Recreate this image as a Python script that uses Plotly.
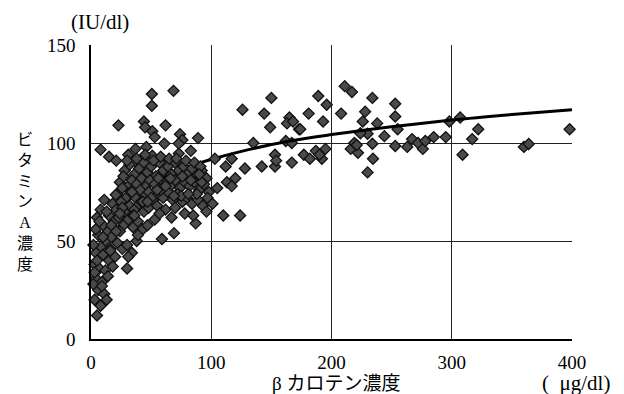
import plotly.graph_objects as go

# ---- data ----
# beta-carotene (x, ug/dl) and vitamin A (y, IU/dl), region x < 100
low_x = [50.6, 50.6, 68.6, 22.8, 44, 45, 62, 51, 53, 74, 76, 89, 8, 15, 21, 31, 37, 46, 61, 73, 73, 83, 43, 51, 59, 41, 103,
         28, 32, 36, 40, 44, 47, 50, 54, 57, 60, 64, 67, 70, 73, 77, 80, 84, 88, 92, 96,
         24, 27, 31, 34, 38, 42, 46, 49, 53, 56, 59, 63, 66, 70, 74, 78, 82, 86, 90, 94, 98,
         22, 26, 29, 33, 37, 41, 45, 48, 52, 56, 60, 64, 68, 72, 76, 80, 84, 89, 93, 97,
         18, 21, 25, 28, 32, 36, 40, 44, 48, 55, 62, 70, 78,
         15, 19, 23, 27, 31, 35, 39, 43, 47,
         11, 20.6, 8, 5, 10, 14, 6, 12, 17, 22, 26, 30, 34, 31, 38, 8, 4, 10, 15, 20, 3, 7, 12, 18, 30, 4, 9, 14, 6, 11, 3, 13, 8, 5,
         59, 69, 87, 96, 101, 53, 88, 92, 85,
         2, 3, 5, 2, 4, 7, 16, 24, 35, 42, 58, 66, 75, 50, 39, 9,
         30, 38, 45, 52, 58, 65, 71, 79, 86, 91, 34, 43, 55, 62, 69, 76, 83, 90, 26, 36, 47, 57, 67, 81, 13, 17, 21, 10, 16, 24]
low_y = [125, 119, 126.6, 109, 111, 108, 109, 106, 103, 104.5, 101.5, 102.5, 96.6, 93, 91, 94, 97, 98, 99.7, 99.7, 94.6, 96, 92, 93.5, 92, 88, 92,
         86, 89, 84, 87, 90, 85, 88, 83, 90, 86, 88, 84, 90, 86, 88, 84, 87, 83, 86, 82,
         80, 83, 78, 81, 79, 82, 78, 81, 79, 82, 77, 80, 78, 81, 77, 80, 78, 80, 76, 79, 75,
         74, 77, 72, 75, 72, 76, 73, 75, 71, 74, 72, 75, 71, 74, 70, 72, 69, 71, 68, 72,
         69, 66, 70, 65, 68, 66, 69, 65, 67, 68, 66, 67, 64,
         63, 60, 62, 58, 61, 57, 60, 56, 58,
         71, 73.6, 66, 62, 58, 55, 53, 50, 52, 49, 46, 48, 44, 42, 50, 47, 44, 43, 40, 42, 38, 36, 35, 37, 36, 31, 29, 32, 25, 23, 20, 20, 17, 12,
         51, 54, 59, 65, 69, 61, 74, 80, 63,
         28, 34, 40, 48, 56, 60, 46, 55, 63, 70, 76, 82, 73, 72, 53, 27,
         91, 92, 94, 91, 93, 92, 92, 91, 90, 88, 75, 70, 76, 78, 73, 83, 81, 84, 67, 63, 70, 64, 62, 74, 65, 58, 55, 52, 45, 64]

# region x >= 100
high_x = [126, 150, 144, 149, 165, 163, 168, 173, 181, 189, 196, 193, 208, 211, 217, 234, 228, 226, 238, 253, 253, 255, 244, 234,
          230, 224, 216, 219, 222, 221, 234.5, 230, 253, 263, 267, 272, 276, 278, 285, 295, 298, 307, 309, 317, 322, 360, 364, 398,
          135, 162, 167, 177, 182, 187, 192, 195, 190, 153, 153, 154, 167, 142, 128, 117, 112, 113, 117, 120, 105, 110, 124, 174]
high_y = [117, 123, 115, 108, 113, 110, 111, 107, 115, 124, 119.5, 111, 115, 129, 126, 123, 116, 111, 110, 120, 113.5, 107, 103.5, 99.6,
          104.7, 105, 97, 100, 95, 99, 92, 85, 98.5, 98, 102, 100, 97, 101, 103, 103, 111, 113, 94, 102, 107, 98, 99.5, 107,
          100, 101, 100, 94, 92, 96, 92, 97, 94, 88, 94, 91, 90, 88, 87, 92, 88, 80, 78, 82, 77, 63, 63, 107]

# logarithmic trend line
trend_x = [4, 10, 20, 30, 50, 75, 91, 102, 131, 163, 200, 250, 300, 350, 400]
trend_y = [33, 49.5, 62, 70, 79, 86.5, 90, 92, 96.6, 100.8, 104.3, 108.3, 111.7, 114.5, 117]

x_ticks = [0, 100, 200, 300, 400]
y_ticks = [0, 50, 100, 150]

serif = "Liberation Serif, Noto Sans CJK JP, serif"
marker = dict(symbol="diamond", size=8.5, color="#4a4a4a", line=dict(color="#111111", width=1.3))

fig = go.Figure()
fig.add_trace(go.Scatter(x=high_x, y=high_y, mode="markers", marker=marker,
                         showlegend=False, cliponaxis=False))
fig.add_trace(go.Scatter(
    x=trend_x, y=trend_y, mode="lines", line=dict(color="#000000", width=3, shape="spline"),
    showlegend=False))
fig.add_trace(go.Scatter(x=low_x, y=low_y, mode="markers", marker=marker,
                         showlegend=False, cliponaxis=False))

fig.update_layout(
    width=624, height=394,
    margin=dict(l=91, r=52, t=45, b=55),
    paper_bgcolor="white", plot_bgcolor="white",
    font=dict(family=serif, size=18, color="black"),
    xaxis=dict(range=[0, 400], tickvals=x_ticks, showgrid=True, gridcolor="#222222", gridwidth=1,
               showline=True, linecolor="black", linewidth=1.5, zeroline=False,
               ticks="", ticklabelstandoff=5, tickfont=dict(size=19, family=serif)),
    yaxis=dict(range=[0, 150], tickvals=y_ticks, showgrid=True, gridcolor="#222222", gridwidth=1,
               showline=True, linecolor="black", linewidth=1.5, zeroline=False,
               ticks="", ticklabelstandoff=10, tickfont=dict(size=19, family=serif)),
    annotations=[
        dict(text="(IU/dl)", x=100, y=22, showarrow=False, font=dict(size=21, family=serif)),
        dict(text="β カロテン濃度", x=336, y=383, showarrow=False, font=dict(size=19, family=serif)),
        dict(text="(  μg/dl)", x=576, y=383, showarrow=False, font=dict(size=21, family=serif)),
        dict(text="ビ<br>タ<br>ミ<br>ン<br>A<br>濃<br>度", x=25, y=202, showarrow=False,
             font=dict(size=16, family=serif)),
    ],
)
# convert pixel-placed annotations to paper coordinates
W, H = 624, 394
for a in fig.layout.annotations:
    px, py = a.x, a.y
    a.xref = "paper"; a.yref = "paper"
    a.x = (px - 91) / (W - 91 - 52)
    a.y = 1 - (py - 45) / (H - 45 - 55)
    a.xanchor = "center"; a.yanchor = "middle"

fig.write_html("out.html", config={"displayModeBar": False},
               post_script="document.body.style.margin='0';")
